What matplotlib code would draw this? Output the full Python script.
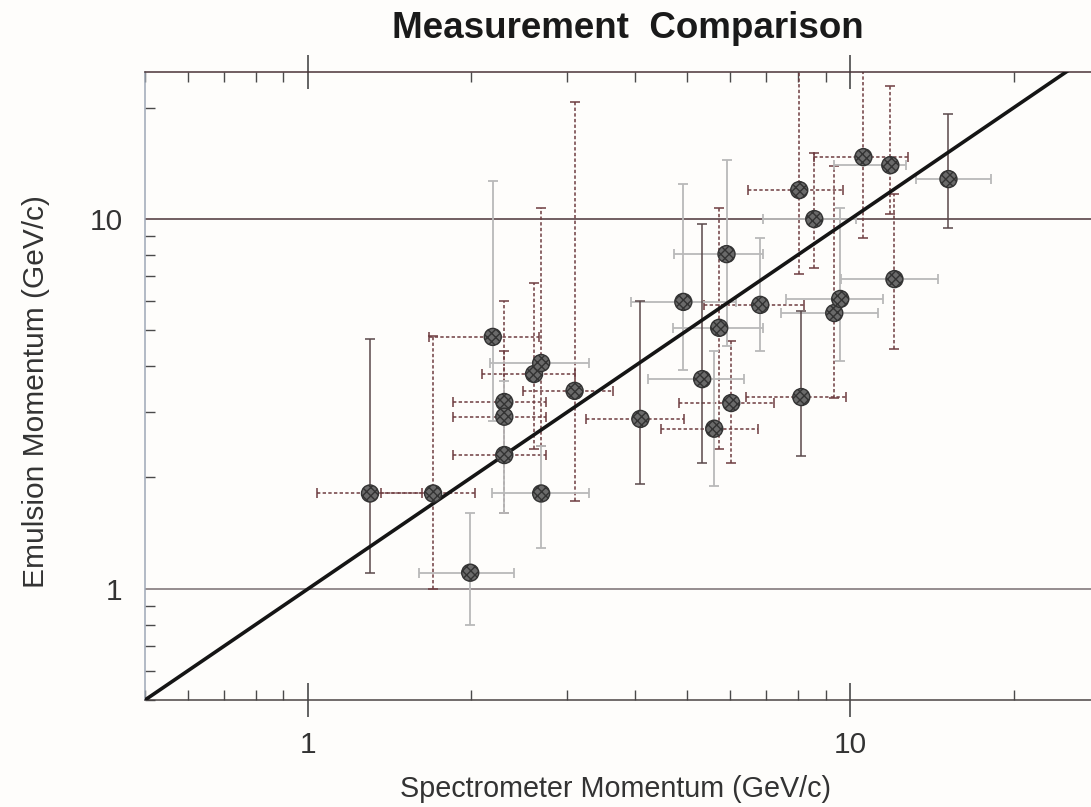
import numpy as np
import matplotlib.pyplot as plt
from matplotlib.ticker import LogLocator, NullFormatter, FixedLocator, FixedFormatter

plt.rcParams['font.family'] = ['Liberation Sans', 'DejaVu Sans']

# Momentum pairs (GeV/c): spectrometer value with its error range,
# emulsion value with its error range
spec_p  = [1.30, 1.70, 1.99, 2.19, 2.30, 2.30, 2.30, 2.61, 2.69, 2.69,
           3.10, 4.10, 4.92, 5.33, 5.61, 5.73, 5.91, 6.03, 6.82, 8.05,
           8.12, 8.58, 9.34, 9.58, 10.57, 11.85, 12.06, 15.17]
spec_lo = [1.04, 1.36, 1.60, 1.67, 1.85, 1.85, 1.85, 2.09, 2.16, 2.18,
           2.49, 3.26, 3.94, 4.24, 4.48, 4.71, 4.73, 4.84, 5.38, 6.48,
           6.43, 6.91, 7.46, 7.62, 8.58, 9.34, 9.63, 13.23]
spec_hi = [1.62, 2.03, 2.40, 2.66, 2.75, 2.75, 2.75, 3.10, 3.29, 3.29,
           3.65, 4.94, 6.16, 6.37, 6.77, 6.91, 6.91, 7.24, 8.22, 9.71,
           9.83, 10.26, 11.26, 11.51, 12.79, 12.69, 14.54, 18.20]
emul_p  = [1.81, 1.81, 1.105, 4.80, 3.20, 2.92, 2.30, 3.81, 4.08, 1.81,
           3.43, 2.88, 5.97, 3.69, 2.71, 5.08, 8.04, 3.18, 5.86, 11.98,
           3.30, 10.0, 5.57, 6.08, 14.71, 13.99, 6.88, 12.83]
emul_lo = [1.10, 1.00, 0.80, 2.85, 2.22, 1.60, 1.60, 2.39, 2.44, 1.29,
           1.73, 1.92, 3.91, 2.19, 1.90, 2.39, 4.54, 2.19, 4.40, 7.10,
           2.29, 7.37, 3.28, 4.13, 8.88, 10.31, 4.45, 9.46]
emul_hi = [4.74, 4.83, 1.60, 12.67, 6.00, 4.40, 3.65, 6.71, 10.71, 2.43,
           20.71, 6.00, 12.43, 9.69, 4.40, 10.71, 14.44, 4.68, 8.88, 30.0,
           5.64, 15.08, 13.91, 10.71, 30.0, 22.88, 11.68, 19.22]

# error source per point: 0 = scan, 1 = fit, 2 = range
spec_src = [0, 0, 1, 0, 0, 0, 0, 0, 1, 1, 0, 0, 1, 1, 0, 1, 1, 0, 0, 0,
            0, 1, 1, 1, 0, 1, 1, 1]
emul_src = [2, 0, 1, 1, 0, 0, 1, 0, 0, 1, 0, 2, 1, 2, 1, 0, 1, 0, 1, 0,
            2, 0, 0, 1, 0, 0, 0, 2]

tick_vals = [1, 10]
tick_text = ['1', '10']

bar_styles = {
    0: dict(color='#6e3c40', lw=1.1, ls=(0, (2.2, 1.5))),
    1: dict(color='#b9b9b9', lw=1.3, ls='-'),
    2: dict(color='#5a484a', lw=1.1, ls='-'),
}

sx = np.array(spec_p); sy = np.array(emul_p)
xerr = np.array([sx - np.array(spec_lo), np.array(spec_hi) - sx])
yerr = np.array([sy - np.array(emul_lo), np.array(emul_hi) - sy])

fig = plt.figure(figsize=(10.91, 8.07), dpi=100, facecolor='#fefdfb')
ax = fig.add_axes([145/1091, 107/807, 964/1091, 628/807])
ax.set_facecolor('#fefdfb')
ax.set_xscale('log')
ax.set_yscale('log')
ax.set_xlim(0.5, 30)
ax.set_ylim(0.5, 25)

for src, st in bar_styles.items():
    m = np.array(spec_src) == src
    if m.any():
        eb = ax.errorbar(sx[m], sy[m], xerr=xerr[:, m], fmt='none',
                         ecolor=st['color'], elinewidth=st['lw'],
                         capsize=3.5, capthick=st['lw'], zorder=2)
        eb[2][0].set_linestyle(st['ls'])
    m = np.array(emul_src) == src
    if m.any():
        eb = ax.errorbar(sx[m], sy[m], yerr=yerr[:, m], fmt='none',
                         ecolor=st['color'], elinewidth=st['lw'],
                         capsize=3.5, capthick=st['lw'], zorder=2)
        eb[2][0].set_linestyle(st['ls'])

# reference lines at 1 and 10 GeV/c
ax.axhline(1, color='#8c8486', lw=1.3, zorder=1)
ax.axhline(10, color='#4a3438', lw=1.1, zorder=1)

# equality line
diag = np.array([0.5, 30])
ax.plot(diag, diag, color='#151515', lw=2.6, zorder=3)

ax.scatter(sx, sy, s=150, facecolor='#6a6a6a', edgecolor='#333333',
           hatch='xxxx', linewidth=1.0, zorder=4)

ax.spines['right'].set_visible(False)
ax.spines['top'].set_color('#4a3438')
ax.spines['bottom'].set_color('#4a4444')
ax.spines['left'].set_color('#9ea8b6')
for s in ax.spines.values():
    s.set_linewidth(1.1)

ax.xaxis.set_major_locator(FixedLocator(tick_vals))
ax.xaxis.set_major_formatter(FixedFormatter(tick_text))
ax.xaxis.set_minor_locator(LogLocator(base=10, subs=np.arange(2, 10)))
ax.xaxis.set_minor_formatter(NullFormatter())
ax.yaxis.set_major_locator(FixedLocator(tick_vals))
ax.yaxis.set_major_formatter(FixedFormatter(tick_text))
ax.yaxis.set_minor_locator(LogLocator(base=10, subs=np.arange(2, 10)))
ax.yaxis.set_minor_formatter(NullFormatter())

ax.tick_params(axis='x', which='major', direction='inout', length=25,
               width=1.1, color='#3a3a3a', top=True, bottom=True,
               labelsize=21.5, labelcolor='#333333', pad=10)
ax.tick_params(axis='x', which='minor', direction='in', length=7,
               width=1.0, color='#4a4a4a', top=True, bottom=True)
ax.tick_params(axis='y', which='major', length=0, labelsize=21.5,
               labelcolor='#333333', pad=16)
ax.tick_params(axis='y', which='minor', direction='in', length=7,
               width=1.0, color='#4a4a4a', left=True, right=False)

ax.set_xlabel('Spectrometer Momentum (GeV/c)', fontsize=20.7, color='#333333')
ax.xaxis.set_label_coords((615 - 145) / 964, (700 - 775) / 628)
ax.set_ylabel('Emulsion Momentum (GeV/c)', fontsize=21.5, color='#333333')
ax.yaxis.set_label_coords((50 - 145) / 964, (700 - 392) / 628)

fig.text(628/1091, 1 - 28/807, 'Measurement  Comparison', fontsize=26.5,
         fontweight='bold', color='#1a1a1a', ha='center', va='center')

fig.savefig('out.png', dpi=100, facecolor=fig.get_facecolor())
